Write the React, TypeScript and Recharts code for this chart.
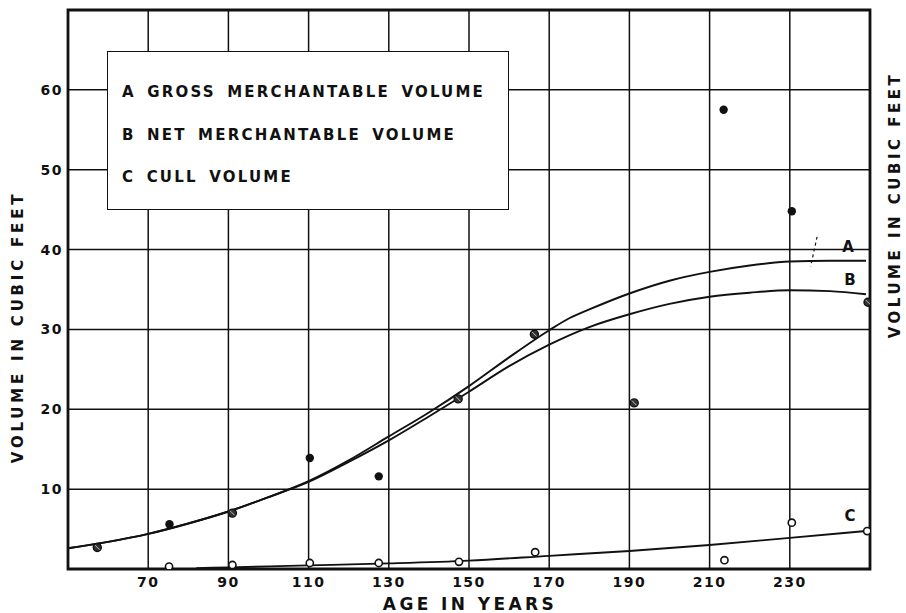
import React from 'react';
import {
  ComposedChart, Line, Scatter, XAxis, YAxis, CartesianGrid, ReferenceArea, ReferenceLine,
} from 'recharts';

// Axis ticks
const xTicks = [70, 90, 110, 130, 150, 170, 190, 210, 230];
const yTicks = [10, 20, 30, 40, 50, 60];

// Curve A: gross merchantable volume
const grossYears = [50, 60, 70, 80, 90, 100, 110, 120, 130, 140, 150, 160, 170, 175, 180, 190, 200, 210, 220, 230, 240, 249];
const grossVolume = [2.6, 3.4, 4.4, 5.7, 7.2, 9.0, 11.0, 13.6, 16.6, 19.6, 22.9, 26.5, 29.9, 31.4, 32.5, 34.5, 36.1, 37.2, 38.0, 38.5, 38.6, 38.6];

// Curve B: net merchantable volume
const netYears = [50, 60, 70, 80, 90, 100, 110, 120, 130, 140, 150, 160, 170, 180, 190, 200, 210, 220, 230, 240, 249];
const netVolume = [2.6, 3.4, 4.4, 5.7, 7.2, 9.0, 10.9, 13.4, 16.1, 19.1, 22.2, 25.4, 28.1, 30.3, 31.9, 33.2, 34.1, 34.6, 34.9, 34.8, 34.4];

// Curve C: cull volume
const cullYears = [82, 90, 110, 130, 150, 170, 190, 210, 230, 249];
const cullVolume = [0.1, 0.2, 0.45, 0.7, 1.05, 1.65, 2.25, 3.0, 3.9, 4.75];

// Observed points
const filledYears = [75.3, 110.3, 127.5, 213.5, 230.5];
const filledVolume = [5.6, 13.9, 11.6, 57.5, 44.8];
const crossedYears = [57.3, 91, 147.3, 166.3, 191.2, 249.5];
const crossedVolume = [2.7, 7.0, 21.3, 29.4, 20.8, 33.4];
const openYears = [75.2, 91, 110.3, 127.5, 147.5, 166.5, 213.7, 230.5, 249.3];
const openVolume = [0.3, 0.5, 0.75, 0.75, 0.9, 2.1, 1.1, 5.8, 4.75];

// Curve end labels
const curveLabelNames = ['A', 'B', 'C'];
const curveLabelYears = [244.5, 245, 245];
const curveLabelVolume = [40.3, 36.2, 6.6];

// Legend
const legendLines = ['A GROSS MERCHANTABLE VOLUME', 'B NET MERCHANTABLE VOLUME', 'C CULL VOLUME'];

const xTitle = 'AGE IN YEARS';
const yTitle = 'VOLUME IN CUBIC FEET';

const zip = (xs: number[], ys: number[]) => xs.map((x, i) => ({ year: x, v: ys[i] }));
const grossData = zip(grossYears, grossVolume);
const netData = zip(netYears, netVolume);
const cullData = zip(cullYears, cullVolume);
const filledData = zip(filledYears, filledVolume);
const crossedData = zip(crossedYears, crossedVolume);
const openData = zip(openYears, openVolume);
const labelData = curveLabelNames.map((n, i) => ({ year: curveLabelYears[i], v: curveLabelVolume[i], name: n }));

const INK = '#111';
const FONT = '"DejaVu Sans", Arial, sans-serif';

const tickStyle = { fontFamily: FONT, fontWeight: 700, fontSize: 14, fill: INK, letterSpacing: 1.5 } as any;

const FilledDot = (p: any) => <circle cx={p.cx} cy={p.cy} r={4.2} fill={INK} />;
const OpenDot = (p: any) => <circle cx={p.cx} cy={p.cy} r={3.6} fill="#fff" stroke={INK} strokeWidth={1.6} />;
const CrossedDot = (p: any) => (
  <g>
    <circle cx={p.cx} cy={p.cy} r={4} fill="#333" stroke={INK} strokeWidth={1.4} />
    <line x1={p.cx - 2.3} y1={p.cy - 2.3} x2={p.cx + 2.3} y2={p.cy + 2.3} stroke="#bbb" strokeWidth={1} />
  </g>
);
const LabelShape = (p: any) => (
  <text x={p.cx} y={p.cy} textAnchor="middle" dominantBaseline="central"
    style={{ fontFamily: FONT, fontWeight: 700, fontSize: 15, fill: INK }}>
    {p.payload.name}
  </text>
);

export default function App() {
  return (
    <div style={{ position: 'absolute', left: 0, top: 0, width: 906, height: 613, background: '#fff' }}>
      <ComposedChart width={906} height={613} margin={{ top: 10, right: 36, left: 0, bottom: 0 }}>
        <CartesianGrid stroke={INK} strokeWidth={1.5} />
        <XAxis type="number" dataKey="year" domain={[50, 250]} ticks={xTicks} allowDataOverflow
          height={44} axisLine={false} tickLine={false} tickSize={6} tickMargin={2} tick={tickStyle} />
        <YAxis type="number" dataKey="v" domain={[0, 70]} ticks={yTicks} allowDataOverflow
          width={68} axisLine={false} tickLine={false} tickSize={3} tickMargin={2} tick={tickStyle} />
        <ReferenceArea x1={50} x2={250} y1={0} y2={70} fill="none" stroke={INK} strokeWidth={2.8} ifOverflow="visible" />
        <ReferenceLine segment={[{ x: 236.8, y: 41.6 }, { x: 235.2, y: 37.9 }]} stroke={INK} strokeWidth={1.2} strokeDasharray="3 3" />
        <Line data={grossData} dataKey="v" type="monotone" stroke={INK} strokeWidth={1.9} dot={false} isAnimationActive={false} />
        <Line data={netData} dataKey="v" type="monotone" stroke={INK} strokeWidth={1.9} dot={false} isAnimationActive={false} />
        <Line data={cullData} dataKey="v" type="monotone" stroke={INK} strokeWidth={1.9} dot={false} isAnimationActive={false} />
        <Scatter data={filledData} shape={FilledDot} isAnimationActive={false} />
        <Scatter data={crossedData} shape={CrossedDot} isAnimationActive={false} />
        <Scatter data={openData} shape={OpenDot} isAnimationActive={false} />
        <Scatter data={labelData} shape={LabelShape} isAnimationActive={false} />
      </ComposedChart>

      <div style={{
        position: 'absolute', left: 107, top: 51, width: 402, height: 159, boxSizing: 'border-box',
        border: `1.6px solid ${INK}`, background: '#fff',
      }}>
        {legendLines.map((t, i) => (
          <div key={t} style={{
            position: 'absolute', left: 14, top: 40 + i * 42.5, transform: 'translateY(-50%)',
            fontFamily: FONT, fontWeight: 700, fontSize: 15, letterSpacing: 2.2, wordSpacing: 4, color: INK, whiteSpace: 'pre',
          }}>{t}</div>
        ))}
      </div>

      <div style={{
        position: 'absolute', left: 470, top: 604, transform: 'translate(-50%, -50%)',
        fontFamily: FONT, fontWeight: 700, fontSize: 17, letterSpacing: 3.4, color: INK, whiteSpace: 'nowrap',
      }}>{xTitle}</div>

      <div style={{
        position: 'absolute', left: 18, top: 327, transform: 'translate(-50%, -50%) rotate(-90deg)',
        fontFamily: FONT, fontWeight: 700, fontSize: 15, letterSpacing: 3.8, color: INK, whiteSpace: 'nowrap',
      }}>{yTitle}</div>

      <div style={{
        position: 'absolute', left: 895, top: 205, transform: 'translate(-50%, -50%) rotate(-90deg)',
        fontFamily: FONT, fontWeight: 700, fontSize: 15, letterSpacing: 3.5, color: INK, whiteSpace: 'nowrap',
      }}>{yTitle}</div>
    </div>
  );
}
